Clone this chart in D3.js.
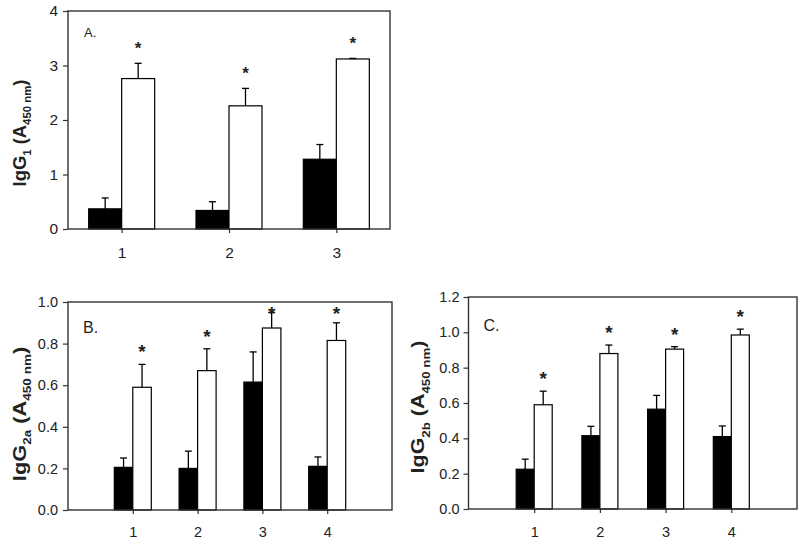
<!DOCTYPE html>
<html>
<head>
<meta charset="utf-8">
<script src="https://cdn.jsdelivr.net/npm/d3@7"></script>
<style>
  body { margin: 0; background: #fff; }
  svg text { font-family: Arial, "Liberation Sans", sans-serif; }
</style>
</head>
<body>
<svg id="chart" width="800" height="544"></svg>
<script>
// ---- data ----
var groupsA = ['1', '2', '3'];
var ctrlA = [0.37, 0.34, 1.28];
var ctrlErrA = [0.20, 0.16, 0.27];
var immA = [2.76, 2.26, 3.12];
var immErrA = [0.28, 0.32, 0.01];
var starsA = ['*', '*', '*'];
var ticksA = [0, 1, 2, 3, 4];

var groupsB = ['1', '2', '3', '4'];
var ctrlB = [0.205, 0.20, 0.615, 0.21];
var ctrlErrB = [0.045, 0.083, 0.145, 0.045];
var immB = [0.59, 0.67, 0.875, 0.815];
var immErrB = [0.11, 0.105, 0.075, 0.085];
var starsB = ['*', '*', '*', '*'];
var ticksB = [0, 0.2, 0.4, 0.6, 0.8, 1.0];

var groupsC = ['1', '2', '3', '4'];
var ctrlC = [0.225, 0.415, 0.565, 0.41];
var ctrlErrC = [0.057, 0.053, 0.078, 0.06];
var immC = [0.59, 0.88, 0.905, 0.985];
var immErrC = [0.077, 0.048, 0.014, 0.033];
var starsC = ['*', '*', '*', '*'];
var ticksC = [0, 0.2, 0.4, 0.6, 0.8, 1.0, 1.2];

var svg = d3.select('#chart');

function drawPanel(p) {
    var g = svg.append('g');

    var x = d3.scalePoint()
        .domain(p.groups)
        .range([p.left, p.right])
        .padding(p.pad);

    var y = d3.scaleLinear()
        .domain([0, d3.max(p.ticks)])
        .range([p.bottom, p.top]);

    var bw = p.barW;

    // y axis
    var yAxis = d3.axisLeft(y)
        .tickValues(p.ticks)
        .tickSize(5)
        .tickPadding(p.tickPad)
        .tickFormat(d3.format(p.fmt));
    var ya = g.append('g')
        .attr('transform', 'translate(' + p.left + ',0)')
        .call(yAxis);
    ya.select('.domain').remove();
    ya.selectAll('line').attr('stroke', '#333').attr('stroke-width', 1.2);
    ya.selectAll('text').style('font-size', p.tickFont + 'px').attr('fill', '#222');

    // x axis
    var xAxis = d3.axisBottom(x).tickSize(4).tickPadding(p.xPad);
    var xa = g.append('g')
        .attr('transform', 'translate(0,' + p.bottom + ')')
        .call(xAxis);
    xa.select('.domain').remove();
    xa.selectAll('line').attr('stroke', '#333').attr('stroke-width', 1.2);
    xa.selectAll('text').style('font-size', p.tickFont + 'px').attr('fill', '#222');

    var rows = p.groups.map(function(d, i) {
        return {g: d, c: p.ctrl[i], ce: p.ctrlErr[i], m: p.imm[i], me: p.immErr[i], s: p.stars[i]};
    });

    // bars
    g.selectAll('.ctrl').data(rows).enter().append('rect')
        .attr('x', function(d) { return x(d.g) - bw; })
        .attr('y', function(d) { return y(d.c); })
        .attr('width', bw)
        .attr('height', function(d) { return p.bottom - y(d.c); })
        .attr('fill', '#000').attr('stroke', '#000').attr('stroke-width', 1.2);

    g.selectAll('.imm').data(rows).enter().append('rect')
        .attr('x', function(d) { return x(d.g); })
        .attr('y', function(d) { return y(d.m); })
        .attr('width', bw)
        .attr('height', function(d) { return p.bottom - y(d.m); })
        .attr('fill', '#fff').attr('stroke', '#000').attr('stroke-width', 1.2);

    // error bars (upper only)
    function errBar(cx, v, e) {
        g.append('line')
            .attr('x1', cx).attr('x2', cx)
            .attr('y1', y(v)).attr('y2', y(v + e))
            .attr('stroke', '#000').attr('stroke-width', 1.3);
        g.append('line')
            .attr('x1', cx - 3.5).attr('x2', cx + 3.5)
            .attr('y1', y(v + e)).attr('y2', y(v + e))
            .attr('stroke', '#000').attr('stroke-width', 1.3);
    }
    rows.forEach(function(d) {
        errBar(x(d.g) - bw / 2, d.c, d.ce);
        errBar(x(d.g) + bw / 2, d.m, d.me);
    });

    // significance marks
    g.selectAll('.star').data(rows).enter().append('text')
        .attr('x', function(d) { return x(d.g) + bw / 2; })
        .attr('y', function(d) {
            var cy = Math.max(y(d.m + d.me) - p.starGap, p.top + 8);
            return cy + p.starFont * 0.52;
        })
        .attr('text-anchor', 'middle')
        .style('font-size', p.starFont + 'px')
        .style('font-weight', 'bold')
        .attr('fill', '#222')
        .text(function(d) { return d.s; });

    // frame
    g.append('rect')
        .attr('x', p.left).attr('y', p.top)
        .attr('width', p.right - p.left).attr('height', p.bottom - p.top)
        .attr('fill', 'none').attr('stroke', '#333').attr('stroke-width', 1.4);

    // panel letter
    g.append('text')
        .attr('x', p.left + p.letterDx).attr('y', p.top + p.letterDy)
        .style('font-size', p.letterFont + 'px')
        .attr('fill', '#222')
        .text(p.letter);

    // y title
    var t = g.append('text')
        .attr('transform', 'translate(' + p.labelX + ',' + p.labelY + ') rotate(-90) scale(' + p.labelStretch + ',1)')
        .attr('text-anchor', 'middle')
        .style('font-size', p.labelFont + 'px')
        .style('font-weight', 'bold')
        .attr('fill', '#222');
    t.append('tspan').text('IgG');
    t.append('tspan').attr('dy', p.labelFont * 0.3).style('font-size', (p.labelFont * 0.62) + 'px').text(p.sub);
    t.append('tspan').attr('dy', -p.labelFont * 0.3).text('\u00a0(A');
    t.append('tspan').attr('dy', p.labelFont * 0.3).style('font-size', (p.labelFont * 0.62) + 'px').text('450 nm');
    t.append('tspan').attr('dy', -p.labelFont * 0.3).text(')');
}

drawPanel({
    groups: groupsA, ctrl: ctrlA, ctrlErr: ctrlErrA, imm: immA, immErr: immErrA, stars: starsA,
    ticks: ticksA, fmt: 'd',
    left: 68, right: 390, top: 11, bottom: 229, pad: 0.5, barW: 33,
    tickFont: 15.5, tickPad: 5, xPad: 14, starFont: 17, starGap: 18,
    letter: 'A.', letterFont: 13, letterDx: 16, letterDy: 26,
    sub: '1', labelFont: 17.5, labelX: 25.5, labelY: 133, labelStretch: 1.05
});

drawPanel({
    groups: groupsB, ctrl: ctrlB, ctrlErr: ctrlErrB, imm: immB, immErr: immErrB, stars: starsB,
    ticks: ticksB, fmt: '.1f',
    left: 68, right: 392, top: 302, bottom: 510, pad: 1, barW: 18.5,
    tickFont: 14.5, tickPad: 5, xPad: 13, starFont: 19, starGap: 16,
    letter: 'B.', letterFont: 16, letterDx: 15, letterDy: 31,
    sub: '2a', labelFont: 18.5, labelX: 25.5, labelY: 414, labelStretch: 1.18
});

drawPanel({
    groups: groupsC, ctrl: ctrlC, ctrlErr: ctrlErrC, imm: immC, immErr: immErrC, stars: starsC,
    ticks: ticksC, fmt: '.1f',
    left: 468.5, right: 797, top: 297, bottom: 509, pad: 1, barW: 18,
    tickFont: 14.5, tickPad: 4, xPad: 14, starFont: 19, starGap: 16,
    letter: 'C.', letterFont: 16, letterDx: 15, letterDy: 34,
    sub: '2b', labelFont: 18.5, labelX: 424, labelY: 407, labelStretch: 1.16
});
</script>
</body>
</html>
